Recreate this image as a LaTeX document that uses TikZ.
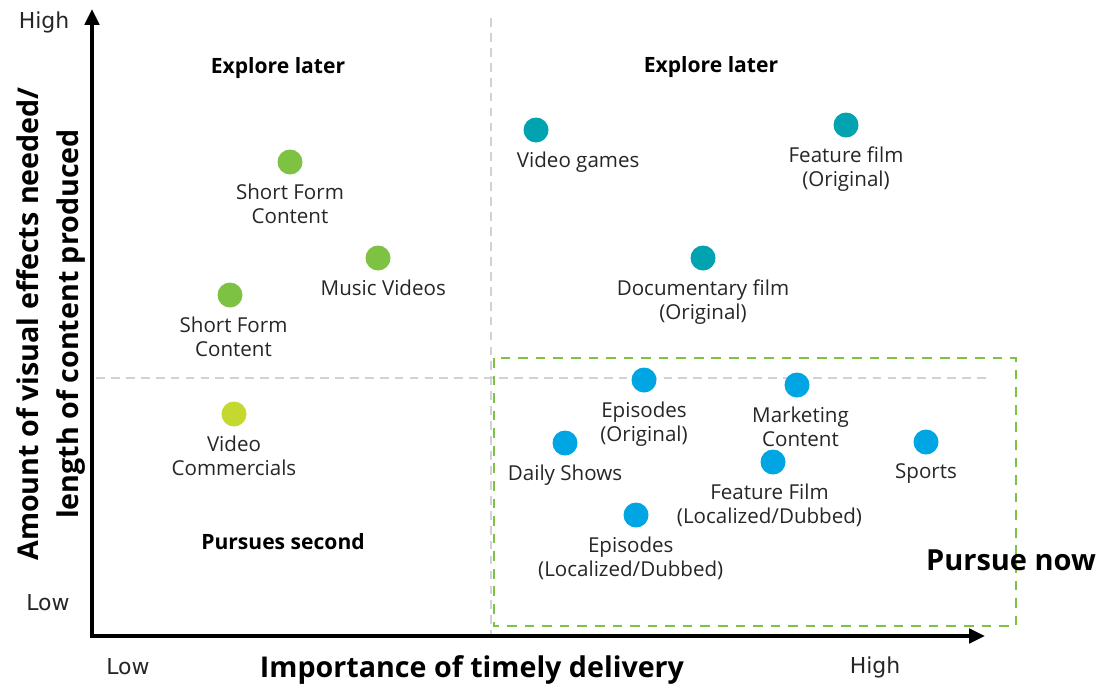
\documentclass[tikz,border=0pt]{standalone}
\usepackage{fontspec}
\setmainfont{Open Sans}
\newfontfamily\ticksfont{DejaVu Sans}
\usepackage{tikz}
\usetikzlibrary{positioning, arrows.meta}

\definecolor{leafgreen}{HTML}{7DC243}
\definecolor{limegreen}{HTML}{C5D82F}
\definecolor{tealdot}{HTML}{00A3AF}
\definecolor{skydot}{HTML}{00A6E3}

\begin{document}
\begin{tikzpicture}[
    x=0.02cm, y=-0.02cm,
    node distance=4pt,
    axis/.style={line width=2.3pt, -{Triangle[length=9pt, width=8pt]}},
    divider/.style={draw=gray!35, line width=1pt, dash pattern=on 5pt off 3.5pt},
    nowbox/.style={draw=leafgreen, line width=1.2pt, dash pattern=on 5.5pt off 4.5pt},
    fxdot/.style={circle, fill=#1, minimum size=0.5cm, inner sep=0pt},
    item/.style={font=\fontsize{11.7}{13.6}\selectfont, align=center, inner sep=1pt, text=black!85},
    quadrant/.style={font=\fontsize{12}{14}\selectfont\bfseries},
    tick/.style={font=\ticksfont\fontsize{12.5}{14}\selectfont, text=black!85},
    axistitle/.style={font=\fontsize{16.3}{22.5}\selectfont\bfseries, align=center}
]
\useasboundingbox (0,0) rectangle (1097,687);

% axes
\coordinate (origin) at (92,636);
\coordinate (ytop) at (92,9);
\coordinate (xend) at (985,636);
\draw[axis] (origin) -- (ytop);
\draw[axis] ([xshift=-1.15pt]origin) -- (xend);

% quadrant dividers
\coordinate (vtop) at (491,18);
\coordinate (vbot) at (491,634);
\coordinate (hleft) at (96,378);
\coordinate (hright) at (986,378);
\draw[divider] (vtop) -- (vbot);
\draw[divider] (hleft) -- (hright);

% region to pursue now
\coordinate (boxa) at (494,358);
\coordinate (boxb) at (1016,626);
\draw[nowbox] (boxa) rectangle (boxb);

% axis ticks and titles
\node[tick] (yhigh) at (44,22) {High};
\node[tick] (ylow) at (48,603) {Low};
\node[tick] (xlow) at (128,667) {Low};
\node[tick] (xhigh) at (875,667) {High};
\node[axistitle, rotate=90] (ytitle) at (51,324) {Amount of visual effects needed/\\length of content produced};
\node[axistitle] (xtitle) at (472,670) {Importance of timely delivery};

% quadrant labels
\node[quadrant] (q1) at (278,68) {Explore later};
\node[quadrant] (q2) at (711,67) {Explore later};
\node[quadrant] (q3) at (283,542) {Pursues second};
\node[quadrant, font=\fontsize{16.5}{18}\selectfont\bfseries] (q4) at (1011,560) {Pursue now};

% content types
\node[fxdot=leafgreen] (sfc) at (290,162) {};
\node[item, below=of sfc] {Short Form\\Content};
\node[fxdot=leafgreen] (mv) at (378,258) {};
\node[item, below=of mv, xshift=3pt] {Music Videos};
\node[fxdot=leafgreen] (sfcb) at (230,295) {};
\node[item, below=of sfcb, xshift=2pt] {Short Form\\Content};
\node[fxdot=limegreen] (vc) at (234,414) {};
\node[item, below=of vc] {Video\\Commercials};

\node[fxdot=tealdot] (vg) at (536,130) {};
\node[item, below=of vg, xshift=24pt] {Video games};
\node[fxdot=tealdot] (ff) at (846,125) {};
\node[item, below=of ff] {Feature film\\(Original)};
\node[fxdot=tealdot] (doc) at (703,258) {};
\node[item, below=of doc] {Documentary film\\(Original)};

\node[fxdot=skydot] (epo) at (644,380) {};
\node[item, below=of epo] {Episodes\\(Original)};
\node[fxdot=skydot] (mkt) at (797,385) {};
\node[item, below=of mkt, xshift=2pt] {Marketing\\Content};
\node[fxdot=skydot] (ds) at (565,443) {};
\node[item, below=of ds] {Daily Shows};
\node[fxdot=skydot] (sp) at (926,442) {};
\node[item, below=of sp] {Sports};
\node[fxdot=skydot] (ffl) at (773,462) {};
\node[item, below=of ffl, xshift=-2pt] {Feature Film\\(Localized/Dubbed)};
\node[fxdot=skydot] (epl) at (636,515) {};
\node[item, below=of epl, xshift=-3pt] {Episodes\\(Localized/Dubbed)};

\end{tikzpicture}
\end{document}
